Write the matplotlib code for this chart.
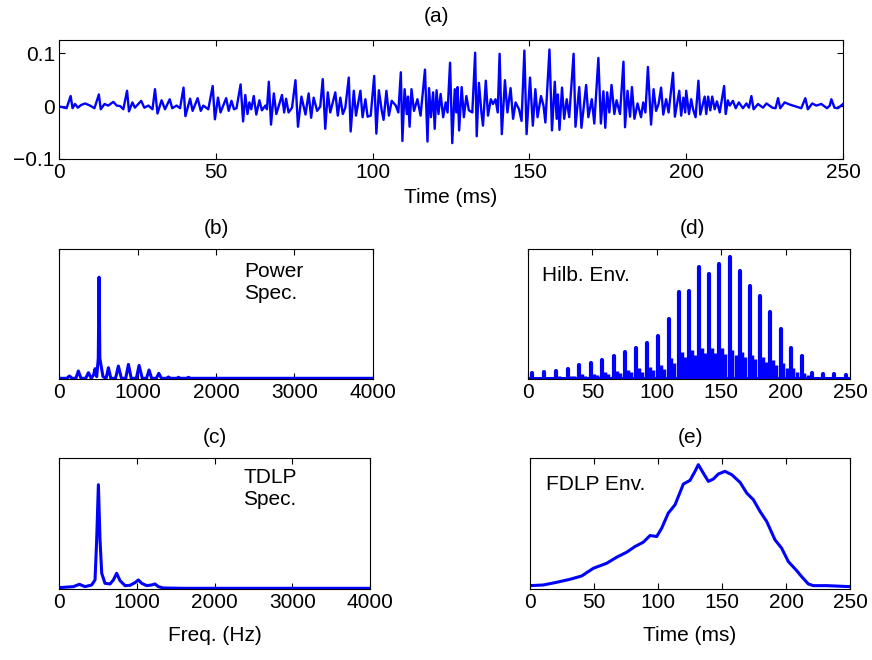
import matplotlib
matplotlib.use('Agg')
from matplotlib import pyplot as plt

plt.rcParams['font.family'] = ['Liberation Sans', 'DejaVu Sans']
plt.rcParams['font.size'] = 15

# (a) speech segment, local extrema (time in ms)
wave_t = [0.0, 0.3, 2.4, 3.7, 4.3, 5.1, 6.0, 7.0, 8.3, 9.9, 11.3,
          12.7, 13.3, 14.5, 15.7, 17.3, 18.4, 19.5, 20.5,
          21.7, 22.3, 23.4, 24.2, 26.2, 27.2, 28.5, 29.8,
          30.6, 31.4, 32.7, 33.8, 35.3, 36.1, 37.5, 38.6,
          39.7, 40.3, 41.8, 42.6, 44.2, 45.2, 46.0, 47.6,
          49.0, 49.7, 50.7, 51.5, 53.3, 54.1, 55.0, 55.8, 56.6,
          57.9, 58.7, 59.4, 60.1, 60.7, 61.3, 62.1, 62.9, 63.9, 64.7, 65.8, 66.3,
          66.9, 67.6, 68.5, 69.3, 71.1, 71.8, 72.4, 73.2, 74.3,
          75.4, 76.2, 77.3, 78.6, 79.6, 80.4, 81.2, 82.3, 83.3,
          84.1, 84.9, 85.7, 86.5, 88.1, 88.9, 89.7, 90.5, 91.3,
          92.4, 93.0, 94.0, 94.7, 96.1, 96.8, 97.7, 98.4, 99.4,
          100.5, 101.2, 102.0, 102.9, 103.5, 104.4, 105.2, 106.1, 107.4, 108.2,
          109.0, 109.5, 110.2, 110.9, 111.3, 111.8, 112.4, 113.2, 114.3, 115.3,
          116.7, 117.5, 118.0, 118.6, 119.3, 119.8, 120.4, 121.0, 121.7, 122.5, 123.3, 123.9,
          124.7, 125.4, 126.2, 126.7, 127.1, 127.6, 128.4, 129.1, 129.9, 130.7, 131.8,
          132.7, 133.2, 133.9, 134.7, 135.2, 136.1, 136.8, 137.7, 138.4, 139.2, 139.9,
          140.5, 141.2, 142.2, 143.0, 144.0, 144.8, 145.6, 146.7, 147.5,
          148.4, 149.1, 150.2, 151.1, 151.9, 152.6, 153.7, 154.5, 155.1,
          156.4, 157.2, 158.1, 158.7, 159.1, 159.6, 160.4, 161.1, 161.9, 162.7,
          164.1, 164.7, 165.9, 166.6, 168.1, 168.8, 169.9, 170.7,
          172.0, 172.8, 173.6, 174.2, 174.8, 175.5, 176.2, 177.1, 177.8, 178.9,
          180.0, 180.5, 181.3, 182.1, 182.7, 183.5, 184.5, 185.6, 186.3, 187.0,
          187.8, 188.8, 189.6, 190.4, 191.2, 192.0, 192.7, 193.6, 194.4,
          195.8, 196.4, 197.8, 198.4, 199.1, 199.7,
          200.0, 200.9, 201.6, 202.2, 203.0,
          203.9, 204.5, 205.9, 206.4, 207.0, 207.7, 208.3, 209.1, 209.8, 210.7,
          212.1, 212.6, 213.3, 213.9, 214.9, 215.8, 216.8, 218.1, 219.2, 220.0,
          220.8, 221.5, 222.9, 224.5, 225.6, 227.5, 228.5,
          229.3, 230.0, 231.4, 233.0, 235.1, 236.7,
          238.0, 238.8, 240.2, 241.5, 243.1, 244.9, 245.8,
          246.3, 247.3, 248.4, 250.0]
wave_v = [0.000, -0.001, -0.004, 0.019, -0.004, 0.004, -0.003, 0.002, 0.005, 0.001, -0.004,
          0.022, -0.006, 0.004, 0.001, 0.008, 0.001, 0.000, -0.006,
          0.029, -0.010, 0.007, -0.003, 0.010, -0.003, 0.001, -0.006,
          0.032, -0.014, 0.011, -0.006, 0.013, -0.004, 0.001, -0.004,
          0.035, -0.019, 0.014, -0.009, 0.015, -0.009, 0.001, -0.006,
          0.038, -0.025, 0.016, -0.012, 0.015, -0.009, 0.010, -0.006, -0.004,
          0.041, -0.029, 0.021, -0.015, 0.007, -0.006, 0.019, -0.016, 0.011, -0.008, 0.001, -0.006,
          0.046, -0.035, 0.024, -0.015, 0.021, -0.012, 0.014, -0.012, -0.003,
          0.049, -0.039, 0.018, -0.016, 0.024, -0.022, 0.016, -0.009, -0.001,
          0.051, -0.043, 0.026, -0.012, 0.026, -0.018, 0.016, -0.015, -0.003,
          0.054, -0.048, 0.029, -0.018, 0.029, -0.021, 0.013, -0.020, -0.018,
          0.057, -0.052, 0.030, -0.008, -0.026, 0.029, -0.018, 0.010, 0.001, -0.012,
          0.064, -0.066, 0.032, -0.015, 0.018, -0.039, 0.032, -0.009, 0.013, -0.018,
          0.069, -0.067, 0.034, -0.021, 0.026, -0.043, 0.030, -0.015, 0.023, -0.021, 0.007, -0.012,
          0.082, -0.070, 0.032, -0.012, 0.036, -0.046, 0.036, -0.021, 0.019, -0.008, -0.012,
          0.101, -0.057, 0.044, -0.012, -0.037, 0.048, -0.018, 0.013, 0.004, 0.013, -0.012,
          0.099, -0.053, 0.049, -0.012, 0.034, -0.024, 0.007, -0.006, -0.028,
          0.105, -0.053, 0.054, -0.037, 0.032, -0.021, 0.019, 0.001, -0.031,
          0.107, -0.046, 0.046, -0.024, 0.022, -0.045, 0.035, -0.024, 0.013, -0.021,
          0.099, -0.039, 0.036, -0.041, 0.040, -0.021, 0.013, -0.033,
          0.091, -0.033, 0.028, -0.041, 0.026, -0.012, 0.040, -0.015, 0.011, -0.015,
          0.084, -0.040, 0.029, -0.020, 0.036, -0.024, 0.005, -0.021, 0.007, -0.012,
          0.074, -0.035, 0.032, -0.009, 0.004, 0.035, -0.016, 0.013, -0.012,
          0.063, -0.020, 0.029, -0.018, 0.016, -0.012,
          0.029, -0.015, 0.013, -0.006, -0.021,
          0.048, -0.016, 0.018, -0.015, 0.018, -0.008, 0.018, -0.006, 0.009, -0.012,
          0.038, -0.015, 0.011, 0.001, 0.010, -0.004, 0.007, -0.004, 0.005, -0.003,
          0.019, -0.006, 0.004, -0.003, 0.005, -0.003, -0.004,
          0.015, -0.004, 0.007, 0.003, -0.001, -0.004,
          0.015, -0.006, 0.005, 0.001, 0.004, -0.004, 0.001,
          0.013, -0.003, -0.004, 0.004]

# (b) power spectrum (relative units)
power_f = [0, 100, 132, 165, 215, 246, 280, 340, 374, 410, 440, 459, 480,
           500, 510, 520, 560, 600, 629, 660, 720, 756, 795, 850, 884, 920,
           985, 1020, 1060, 1115, 1147, 1180, 1240, 1271, 1305, 1370, 1394,
           1420, 1500, 1521, 1545, 1625, 1649, 1675, 4000]
power_v = [0, 0, 7, 0, 0, 22, 0, 0, 17, 0, 10, 29, 5,
           60, 305, 60, 5, 0, 32, 0, 0, 37, 0, 0, 42, 0,
           0, 39, 0, 0, 25, 0, 0, 15, 0, 0, 4,
           0, 0, 3, 0, 0, 3, 0, 0]

# (c) TDLP spectrum
tdlp_f = [0, 184, 261, 334, 420, 463, 484, 506, 527, 549, 591, 656, 699, 741,
          784, 849, 913, 977, 1020, 1063, 1127, 1191, 1234, 1277, 1341, 1599, 4000]
tdlp_v = [2, 5, 12, 5, 10, 25, 145, 310, 145, 45, 15, 13, 25, 45,
          23, 8, 9, 17, 25, 15, 8, 10, 13, 5, 1, 0, 0]

# (d) Hilbert envelope: pitch pulses and the smaller ripples after them
hilb_t = [3.4, 12.7, 21.8, 30.8, 39.6, 48.7, 57.8, 66.8, 75.6, 84.2, 92.5,
          100.8, 109.1, 117.1, 124.9, 132.6, 140.7, 148.4, 156.5, 164.2,
          172.0, 180.0, 187.8, 196.1, 203.9, 212.4, 220.7, 229.3, 237.8, 246.6]
hilb_v = [15, 20, 23, 29, 39, 45, 56, 67, 78, 92, 107, 127, 179, 260, 264,
          335, 315, 345, 367, 325, 279, 247, 199, 149, 90, 67, 17, 14, 12, 10]
ripple1_t = [5.6, 14.9, 24.0, 33.0, 41.8, 50.9, 60.0, 69.0, 77.8, 86.4, 94.7,
             103.0, 111.3, 119.3, 127.1, 134.8, 142.9, 150.6, 158.7, 166.4,
             174.2, 182.2, 190.0, 198.3, 206.1, 214.6, 222.9, 231.5, 240.0, 248.8]
ripple1_v = [4, 5, 6, 8, 12, 14, 18, 22, 26, 30, 34, 40, 60, 80, 85, 90, 90,
             90, 85, 80, 70, 65, 55, 45, 30, 15, 5, 4, 4, 3]
ripple2_t = [8.0, 17.3, 26.4, 35.4, 44.2, 53.3, 62.4, 71.4, 80.2, 88.8, 97.1,
             105.4, 113.7, 121.7, 129.5, 137.2, 145.3, 153.0, 161.1, 168.8,
             176.6, 184.6, 192.4, 200.7, 208.5, 217.0, 225.3, 233.9, 242.4]
ripple2_v = [3, 4, 5, 6, 8, 10, 12, 15, 18, 20, 24, 28, 45, 65, 70, 75, 75,
             72, 70, 65, 58, 50, 40, 32, 20, 10, 4, 3, 3]

# (e) FDLP envelope
fdlp_t = [0, 10.4, 20.8, 31.3, 40.4, 49.5, 59.9, 67.7, 75.5, 82.0, 88.5, 93.8,
          99.0, 102.9, 108.0, 113.3, 119.8, 125.0, 128.9, 131.5, 134.1, 139.3,
          143.2, 147.1, 152.3, 157.6, 164.1, 169.3, 174.5, 179.7, 184.9, 191.4,
          196.6, 201.8, 208.3, 212.2, 217.4, 221.4, 231.8, 250]
fdlp_v = [10, 12, 20, 29, 39, 62, 77, 95, 110, 127, 140, 160,
          157, 182, 227, 252, 314, 325, 352, 372, 355, 322,
          329, 344, 352, 342, 319, 287, 267, 232, 202, 147,
          122, 82, 55, 37, 15, 10, 10, 7]


def style(ax):
    ax.tick_params(direction='in', top=True, right=True, length=4,
                   width=0.8, labelsize=15, pad=3)
    for s in ax.spines.values():
        s.set_linewidth(0.8)


fig = plt.figure(figsize=(8.72, 6.6), dpi=100)
blue = (0, 0, 1)

ax_a = fig.add_axes([0.0677, 0.7591, 0.899, 0.1803])
ax_a.plot(wave_t, wave_v, color=blue, lw=1.7)
ax_a.set_xlim(0, 250)
ax_a.set_ylim(-0.1, 0.125)
ax_a.set_xticks([0, 50, 100, 150, 200, 250])
ax_a.set_yticks([-0.1, 0, 0.1])
ax_a.set_yticklabels(['\u22120.1', '0', '0.1'])
ax_a.set_xlabel('Time (ms)', labelpad=4)
ax_a.set_title('(a)', fontsize=15, pad=13, x=0.481)
style(ax_a)

ax_b = fig.add_axes([0.0677, 0.4258, 0.360, 0.197])
ax_b.plot(power_f, power_v, color=blue, lw=2.2)
ax_b.set_xlim(0, 4000)
ax_b.set_ylim(-2, 390)
ax_b.set_xticks([0, 1000, 2000, 3000, 4000])
ax_b.set_yticks([])
ax_b.text(0.59, 0.9, 'Power\nSpec.', transform=ax_b.transAxes,
          va='top', ha='left', linespacing=1.2)
ax_b.set_title('(b)', fontsize=15, pad=10.5)
style(ax_b)

ax_d = fig.add_axes([0.6055, 0.4258, 0.3693, 0.197])
ax_d.axhline(0, color=blue, lw=2.2)
ax_d.vlines(ripple2_t, 0, ripple2_v, color=blue, lw=2.5)
ax_d.vlines(ripple1_t, 0, ripple1_v, color=blue, lw=2.5)
ax_d.vlines(hilb_t, 0, hilb_v, color=blue, lw=3.0, capstyle='round')
ax_d.set_xlim(0, 250)
ax_d.set_ylim(-2, 390)
ax_d.set_xticks([0, 50, 100, 150, 200, 250])
ax_d.set_yticks([])
ax_d.text(0.045, 0.87, 'Hilb. Env.', transform=ax_d.transAxes,
          va='top', ha='left')
ax_d.set_title('(d)', fontsize=15, pad=10.5, x=0.51)
style(ax_d)

ax_c = fig.add_axes([0.0677, 0.1076, 0.3567, 0.1985])
ax_c.plot(tdlp_f, tdlp_v, color=blue, lw=2.2)
ax_c.set_xlim(0, 4000)
ax_c.set_ylim(-2, 390)
ax_c.set_xticks([0, 1000, 2000, 3000, 4000])
ax_c.set_yticks([])
ax_c.set_xlabel('Freq. (Hz)', labelpad=10)
ax_c.text(0.593, 0.92, 'TDLP\nSpec.', transform=ax_c.transAxes,
          va='top', ha='left', linespacing=1.2)
ax_c.set_title('(c)', fontsize=15, pad=10.5)
style(ax_c)

ax_e = fig.add_axes([0.6078, 0.1076, 0.367, 0.1985])
ax_e.plot(fdlp_t, fdlp_v, color=blue, lw=2.2)
ax_e.set_xlim(0, 250)
ax_e.set_ylim(0, 392)
ax_e.set_xticks([0, 50, 100, 150, 200, 250])
ax_e.set_yticks([])
ax_e.set_xlabel('Time (ms)', labelpad=10)
ax_e.text(0.05, 0.87, 'FDLP Env.', transform=ax_e.transAxes,
          va='top', ha='left')
ax_e.set_title('(e)', fontsize=15, pad=10.5)
style(ax_e)

fig.savefig('out.png', dpi=100)
